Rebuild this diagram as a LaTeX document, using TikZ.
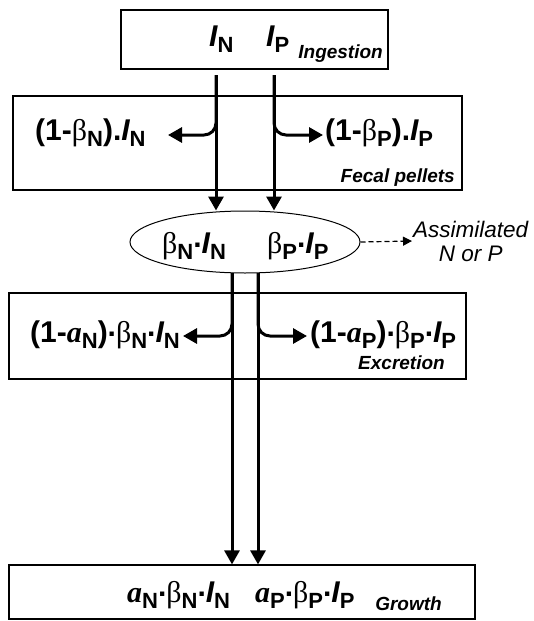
\documentclass[tikz,border=0pt]{standalone}
\usepackage{fontspec}
\setmainfont{Liberation Sans}
\newfontfamily\grk{Liberation Serif}
\usetikzlibrary{arrows.meta,shapes.geometric}

\newcommand{\subx}[1]{\raisebox{-.22em}{\fontsize{22}{22}\selectfont\bfseries\upshape #1}}
\newcommand{\gbeta}{{\grk\mdseries\upshape β}}
\newcommand{\va}{{\grk\bfseries\itshape a}}
\newcommand{\vI}{{\itshape I}}
\newcommand{\pdot}{\raisebox{.18em}{.}}

\tikzset{
  box/.style={draw, line width=1.2pt, inner sep=0pt},
  txt/.style={inner sep=0pt, anchor=base west, font=\fontsize{30}{32}\selectfont\bfseries},
  tag/.style={inner sep=0pt, anchor=base east, font=\fontsize{19}{21}\selectfont\bfseries\itshape},
  flow/.style={line width=3pt, -{Triangle[width=15pt,length=14pt]}},
}

\begin{document}
\begin{tikzpicture}[x=1pt,y=-1pt]
  \useasboundingbox (0,0) rectangle (533,621);

  % compartments
  \node[box, minimum width=267pt, minimum height=59pt] (ingest) at (254.5,39.5) {};
  \node[box, minimum width=449pt, minimum height=94pt] (fecal) at (237.5,143) {};
  \node[box, ellipse, line width=1pt, minimum width=230pt, minimum height=62pt] (assim) at (245,242) {};
  \node[box, minimum width=457pt, minimum height=86pt] (excr) at (237.5,336) {};
  \node[box, minimum width=466pt, minimum height=54pt] (growth) at (242,592) {};

  % ingestion
  \node[txt] (iN) at (209,46) {\vI\subx{N}};
  \node[txt] (iP) at (266,46) {\vI\subx{P}};
  \node[tag] (ingLbl) at (383,58) {Ingestion};

  % fecal pellets
  \node[txt] (lossN) at (35,140) {(1-\gbeta\subx{N}).\vI\subx{N}};
  \node[txt] (lossP) at (325,140) {(1-\gbeta\subx{P}).\vI\subx{P}};
  \node[tag] (fecLbl) at (455,182) {Fecal pellets};

  % assimilated
  \node[txt] (asN) at (162,253) {\gbeta\subx{N}\pdot\vI\subx{N}};
  \node[txt] (asP) at (267,253) {\gbeta\subx{P}\pdot\vI\subx{P}};
  \node[inner sep=1pt, anchor=west, align=center,
        font=\fontsize{22.5}{24}\selectfont\itshape] (note) at (412,241) {Assimilated\\N or P};

  % excretion
  \node[txt] (excN) at (30,342) {(1-\va\subx{N})\pdot\gbeta\subx{N}\pdot\vI\subx{N}};
  \node[txt] (excP) at (310,342) {(1-\va\subx{P})\pdot\gbeta\subx{P}\pdot\vI\subx{P}};
  \node[tag] (excLbl) at (445,369) {Excretion};

  % growth
  \node[txt] (grN) at (127,602) {\va\subx{N}\pdot\gbeta\subx{N}\pdot\vI\subx{N}};
  \node[txt] (grP) at (255,602) {\va\subx{P}\pdot\gbeta\subx{P}\pdot\vI\subx{P}};
  \node[tag] (grLbl) at (442,610) {Growth};

  % flow ends
  \coordinate (inN) at (216,75);
  \coordinate (inP) at (274,75);
  \coordinate (outN) at (232,273);
  \coordinate (outP) at (258,273);
  \coordinate (fN) at (168,135);
  \coordinate (fP) at (323,135);
  \coordinate (eN) at (183,336);
  \coordinate (eP) at (307,336);

  % flows
  \draw[flow] (inN) -- (inN |- assim.north);
  \draw[flow] (inP) -- (inP |- assim.north);
  \draw[flow, rounded corners=12pt] (inN) |- (fN);
  \draw[flow, rounded corners=12pt] (inP) |- (fP);
  \draw[flow] (outN) -- (outN |- growth.north);
  \draw[flow] (outP) -- (outP |- growth.north);
  \draw[flow, rounded corners=12pt] (outN) |- (eN);
  \draw[flow, rounded corners=12pt] (outP) |- (eP);
  \draw[line width=1.2pt, dash pattern=on 5pt off 3pt, -{Triangle[width=9pt,length=9pt]}]
    (assim.east) -- (note.west);
\end{tikzpicture}
\end{document}
